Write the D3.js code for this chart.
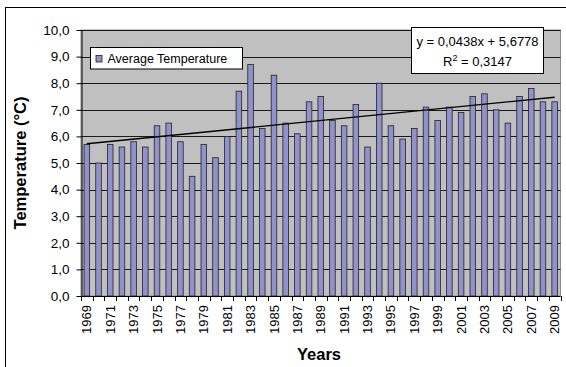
<!DOCTYPE html>
<html>
<head>
<meta charset="utf-8">
<script src="https://cdn.jsdelivr.net/npm/d3@7"></script>
<style>
  html, body { margin: 0; padding: 0; background: #ffffff; }
  svg { display: block; }
  text { font-family: "Liberation Sans", Arial, sans-serif; fill: #000; }
</style>
</head>
<body>
<script>
// Annual mean temperature, 1969–2009
const years = d3.range(1969, 2010).map(String);
const temperatures = [
  5.7, 5.0, 5.7, 5.6, 5.8, 5.6, 6.4, 6.5, 5.8, 4.5,
  5.7, 5.2, 6.0, 7.7, 8.7, 6.3, 8.3, 6.5, 6.1, 7.3,
  7.5, 6.6, 6.4, 7.2, 5.6, 8.0, 6.4, 5.9, 6.3, 7.1,
  6.6, 7.1, 6.9, 7.5, 7.6, 7.0, 6.5, 7.5, 7.8, 7.3,
  7.3
];
const yTicks = [0, 1, 2, 3, 4, 5, 6, 7, 8, 9, 10];
const xTickLabels = years.filter((d, i) => i % 2 === 0);
// Linear trend: slope and intercept over the index 1..n
const trendCoefficients = [0.0438, 5.6778];
const rSquared = [0.3147];
const seriesName = ["Average Temperature"];

const W = 566, H = 367;
const plot = { left: 81, right: 560.5, top: 30, bottom: 296 };
const fmt = v => d3.format(".1f")(v).replace(".", ",");
const fmt4 = v => d3.format(".4f")(v).replace(".", ",");

const svg = d3.select("body").append("svg")
  .attr("width", W).attr("height", H);

// chart frame
svg.append("rect")
  .attr("x", 5.5).attr("y", 7.5)
  .attr("width", 700).attr("height", 500)
  .attr("fill", "#fff").attr("stroke", "#000").attr("stroke-width", 1);

const x = d3.scaleBand().domain(years).range([plot.left, plot.right]).padding(0);
const y = d3.scaleLinear().domain([0, 10]).range([plot.bottom, plot.top]);

// plot area
svg.append("rect")
  .attr("x", plot.left).attr("y", plot.top)
  .attr("width", plot.right - plot.left).attr("height", plot.bottom - plot.top)
  .attr("fill", "#c0c0c0").attr("stroke", "#8c8c8c").attr("stroke-width", 1);

// horizontal gridlines
svg.append("g").selectAll("line")
  .data(yTicks.filter(d => d > 0))
  .join("line")
  .attr("x1", plot.left).attr("x2", plot.right)
  .attr("y1", d => Math.round(y(d)) + 0.5).attr("y2", d => Math.round(y(d)) + 0.5)
  .attr("stroke", "#1a1a1a").attr("stroke-width", 1);

// bars
const bw = x.bandwidth();
const barW = bw / 2.1;
svg.append("g").selectAll("rect")
  .data(temperatures)
  .join("rect")
  .attr("x", (d, i) => x(years[i]) + (bw - barW) / 2)
  .attr("y", d => y(d))
  .attr("width", barW)
  .attr("height", d => y(0) - y(d))
  .attr("fill", "#9191cc")
  .attr("stroke", "#222").attr("stroke-width", 0.8);

// trend line
const [slope, intercept] = trendCoefficients;
const n = years.length;
svg.append("line")
  .attr("x1", x(years[0]) + bw / 2)
  .attr("y1", y(slope * 1 + intercept))
  .attr("x2", x(years[n - 1]) + bw / 2)
  .attr("y2", y(slope * n + intercept))
  .attr("stroke", "#000").attr("stroke-width", 1.4);

// y axis
const yAxis = d3.axisLeft(y).tickValues(yTicks).tickFormat(fmt).tickSize(5).tickSizeOuter(0);
const gy = svg.append("g").attr("transform", `translate(${plot.left + 0.5},0)`).call(yAxis);
gy.select(".domain").attr("stroke", "#000");
gy.selectAll(".tick line").attr("stroke", "#000");
gy.selectAll(".tick text")
  .attr("x", -12)
  .style("font-family", "Liberation Sans, Arial, sans-serif")
  .style("font-size", "13.5px").attr("fill", "#111");

// x axis: baseline, ticks at category boundaries
const gx = svg.append("g");
gx.append("line")
  .attr("x1", plot.left).attr("x2", plot.right)
  .attr("y1", plot.bottom + 0.5).attr("y2", plot.bottom + 0.5)
  .attr("stroke", "#000");
gx.selectAll("line.tk")
  .data(years.concat(["end"]))
  .join("line").attr("class", "tk")
  .attr("x1", (d, i) => Math.round(i < n ? x(d) : plot.right) + 0.5)
  .attr("x2", (d, i) => Math.round(i < n ? x(d) : plot.right) + 0.5)
  .attr("y1", plot.bottom).attr("y2", plot.bottom + 5)
  .attr("stroke", "#000");
gx.selectAll("text")
  .data(xTickLabels)
  .join("text")
  .attr("transform", d => `translate(${x(d) + bw / 2},${plot.bottom + 9}) rotate(-90)`)
  .attr("text-anchor", "end")
  .attr("dy", "0.35em")
  .style("font-size", "13px")
  .text(d => d);

// axis titles
svg.append("text")
  .attr("transform", `translate(26,${(plot.top + plot.bottom) / 2}) rotate(-90)`)
  .attr("text-anchor", "middle")
  .style("font-size", "16.5px").style("font-weight", "bold")
  .text("Temperature (°C)");
svg.append("text")
  .attr("x", 319).attr("y", 360)
  .attr("text-anchor", "middle")
  .style("font-size", "16.5px").style("font-weight", "bold")
  .text("Years");

// legend
const lg = svg.append("g");
lg.append("rect")
  .attr("x", 90.5).attr("y", 47.5).attr("width", 152).attr("height", 21.5)
  .attr("fill", "#fff").attr("stroke", "#000");
lg.append("rect")
  .attr("x", 96).attr("y", 55.5).attr("width", 6).attr("height", 6.5)
  .attr("fill", "#9191cc").attr("stroke", "#222").attr("stroke-width", 0.8);
lg.append("text")
  .attr("x", 107.5).attr("y", 63)
  .style("font-size", "12.5px")
  .text(seriesName[0]);

// regression equation box
const eq = svg.append("g");
eq.append("rect")
  .attr("x", 411.5).attr("y", 27.5).attr("width", 132).attr("height", 46)
  .attr("fill", "#fff").attr("stroke", "#000");
eq.append("text")
  .attr("x", 477.5).attr("y", 46)
  .attr("text-anchor", "middle")
  .style("font-size", "13px")
  .text(`y = ${fmt4(slope)}x + ${fmt4(intercept)}`);
const r2 = eq.append("text")
  .attr("x", 477.5).attr("y", 66)
  .attr("text-anchor", "middle")
  .style("font-size", "13px");
r2.append("tspan").text("R");
r2.append("tspan").attr("dy", "-5").style("font-size", "9px").text("2");
r2.append("tspan").attr("dy", "5").text(` = ${fmt4(rSquared[0])}`);
</script>
</body>
</html>
